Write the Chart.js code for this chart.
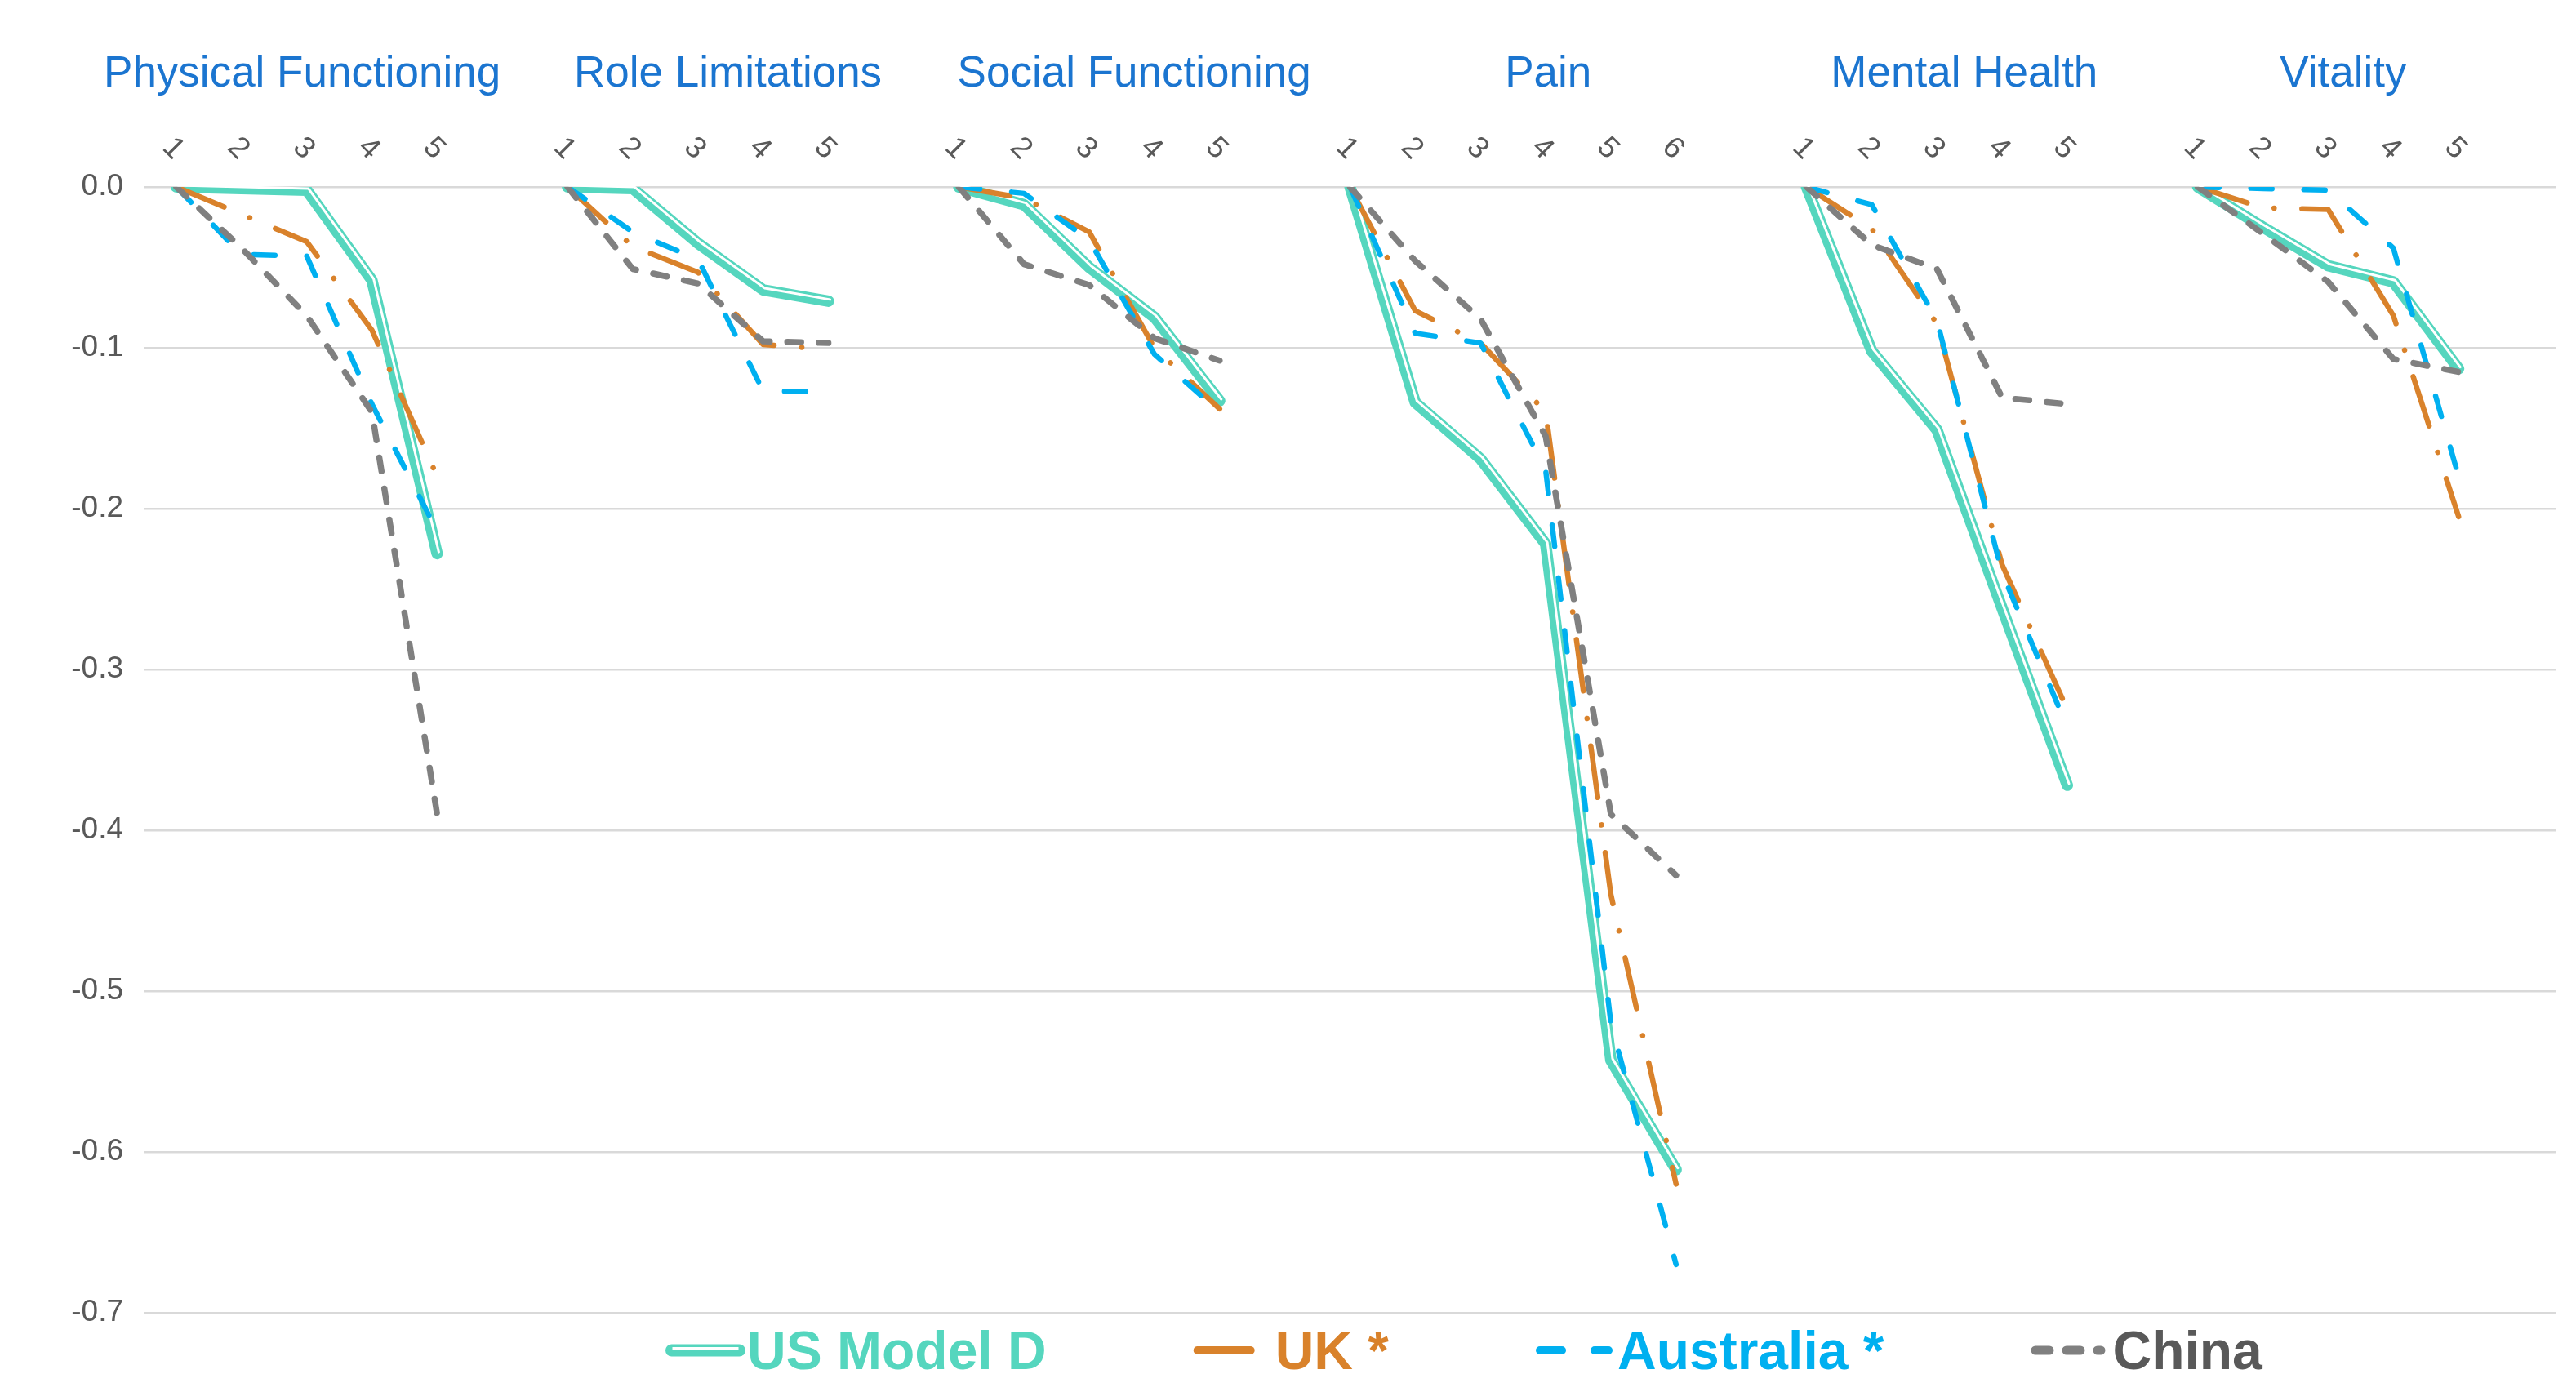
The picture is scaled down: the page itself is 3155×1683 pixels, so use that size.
<!DOCTYPE html>
<html><head><meta charset="utf-8">
<style>html,body{margin:0;padding:0;background:#fff;}#wrap{width:3155px;height:1683px;position:relative;}</style>
<script src="https://cdn.jsdelivr.net/npm/chart.js@4.4.1/dist/chart.umd.min.js"></script>
</head><body><div id="wrap"><canvas id="c"></canvas></div>
<script>
// ---- data ----
const groupNames = ['Physical Functioning','Role Limitations','Social Functioning','Pain','Mental Health','Vitality'];
const categories = ['1','2','3','4','5','',
                    '1','2','3','4','5','',
                    '1','2','3','4','5','',
                    '1','2','3','4','5','6','',
                    '1','2','3','4','5','',
                    '1','2','3','4','5',''];
const seriesNames = ['US Model D','UK *','Australia *','China'];
const usModelD = [0,-0.001,-0.002,-0.058,-0.228,null,
                  0,-0.001,-0.035,-0.064,-0.071,null,
                  0,-0.011,-0.050,-0.081,-0.133,null,
                  0,-0.134,-0.169,-0.222,-0.543,-0.611,null,
                  0,-0.102,-0.151,-0.262,-0.372,null,
                  0,-0.025,-0.049,-0.059,-0.113,null];
const uk = [0,-0.017,-0.034,-0.089,-0.180,null,
            0,-0.037,-0.053,-0.098,-0.101,null,
            0,-0.007,-0.028,-0.100,-0.138,null,
            0,-0.077,-0.097,-0.140,-0.440,-0.620,null,
            0,-0.026,-0.085,-0.235,-0.325,null,
            0,-0.013,-0.014,-0.080,-0.205,null];
const australia = [0,-0.042,-0.043,-0.135,-0.214,null,
                   0,-0.028,-0.045,-0.127,-0.127,null,
                   0,-0.004,-0.033,-0.104,-0.140,null,
                   0,-0.091,-0.097,-0.176,-0.520,-0.670,null,
                   0,-0.011,-0.083,-0.240,-0.336,null,
                   0,-0.001,-0.002,-0.038,-0.180,null];
const china = [0,-0.038,-0.080,-0.140,-0.390,null,
               0,-0.051,-0.060,-0.096,-0.097,null,
               0,-0.048,-0.061,-0.094,-0.108,null,
               0,-0.046,-0.082,-0.155,-0.390,-0.428,null,
               0,-0.036,-0.051,-0.131,-0.135,null,
               0,-0.029,-0.059,-0.107,-0.115,null];
const yTicks = [0,-0.1,-0.2,-0.3,-0.4,-0.5,-0.6,-0.7];

// ---- layout / style ----
const titleAnchors = [1.93, 8.46, 14.69, 21.04, 27.42, 33.23]; // title centres in category units
const FONT = '"Liberation Sans", Arial, sans-serif';
const colors = ['#55D6BE','#D9822B','#00B0F0','#808080'];
const legendKeys = [
  {from:7.5, to:90.5, width:15, dash:[], double:true},
  {from:5, to:70, width:10, dash:[]},
  {from:5, to:89, width:10, dash:[27,40]},
  {from:5.5, to:85.5, width:11, dash:[17,21]}
];

const base = {pointRadius:0, pointHoverRadius:0, spanGaps:false, tension:0, clip:0,
              borderCapStyle:'round', borderJoinStyle:'round', fill:false};
const datasets = [
  Object.assign({label:seriesNames[0], data:usModelD, borderColor:colors[0], borderWidth:14, order:4}, base),
  Object.assign({label:seriesNames[0]+' inner', data:usModelD, borderColor:'#ffffff', borderWidth:3, order:3, inner:true}, base),
  Object.assign({label:seriesNames[1], data:uk, borderColor:colors[1], borderWidth:6.5, borderDash:[63.5,34,0.1,34], order:2}, base),
  Object.assign({label:seriesNames[2], data:australia, borderColor:colors[2], borderWidth:6.5, borderDash:[26,39], order:1}, base),
  Object.assign({label:seriesNames[3], data:china, borderColor:colors[3], borderWidth:7.5, borderDash:[17,21.5], order:0}, base)
];

const decor = {
  id:'decor',
  beforeDatasetDraw(chart, args){
    const ds = chart.data.datasets[args.index];
    if (ds.inner){ chart.ctx.save(); chart.ctx.translate(2,-2); }
  },
  afterDatasetDraw(chart, args){
    const ds = chart.data.datasets[args.index];
    if (ds.inner){ chart.ctx.restore(); }
  },
  afterDraw(chart){
    const ctx = chart.ctx, xs = chart.scales.x;
    ctx.save();
    // rotated category labels
    ctx.fillStyle = '#595959';
    ctx.font = '37px ' + FONT;
    ctx.textAlign = 'center'; ctx.textBaseline = 'middle';
    categories.forEach((c,i)=>{
      if(!c) return;
      const x = xs.getPixelForValue(i) - 4;
      ctx.save(); ctx.translate(x, 182); ctx.rotate(Math.PI/4);
      ctx.fillText(c, 0, 0); ctx.restore();
    });
    // group titles
    ctx.fillStyle = '#1B75D0';
    ctx.font = '53px ' + FONT;
    ctx.textBaseline = 'alphabetic';
    groupNames.forEach((g,i)=>{
      ctx.fillText(g, xs.getPixelForValue(titleAnchors[i]), 106);
    });
    // legend
    ctx.font = 'bold 66px ' + FONT;
    ctx.textAlign = 'left';
    let x = 815; const ky = 1654;
    seriesNames.forEach((n,i)=>{
      const k = legendKeys[i];
      ctx.lineCap = 'round';
      ctx.strokeStyle = colors[i]; ctx.lineWidth = k.width; ctx.setLineDash(k.dash);
      ctx.beginPath(); ctx.moveTo(x+k.from, ky); ctx.lineTo(x+k.to, ky); ctx.stroke();
      if (k.double){
        ctx.strokeStyle = '#ffffff'; ctx.lineWidth = 3; ctx.lineCap = 'butt';
        ctx.beginPath(); ctx.moveTo(x+k.from+1, ky-2.5); ctx.lineTo(x+k.to-1, ky-2.5); ctx.stroke();
      }
      ctx.setLineDash([]);
      ctx.fillStyle = i===3 ? '#595959' : colors[i];
      ctx.fillText(n, x+100, 1677);
      x += 100 + ctx.measureText(n).width + 180;
    });
    ctx.restore();
  }
};

new Chart(document.getElementById('c'), {
  type:'line',
  data:{labels:categories, datasets:datasets},
  options:{
    responsive:true, maintainAspectRatio:false, animation:false, devicePixelRatio:1,
    layout:{padding:{top:229, right:24, bottom:75, left:0}},
    plugins:{legend:{display:false}, tooltip:{enabled:false}, title:{display:false}},
    scales:{
      x:{type:'category', display:false, offset:true},
      y:{min:-0.7, max:0,
         afterFit(s){ s.width = 176; },
         afterBuildTicks(s){ s.ticks = yTicks.map(v=>({value:v})); },
         grid:{color:'#D9D9D9', lineWidth:2.5, drawTicks:false},
         border:{display:false},
         ticks:{padding:25, color:'#595959', font:{family:FONT, size:37},
                callback:(v)=>Number(v).toFixed(1)}}
    }
  },
  plugins:[decor]
});
</script></body></html>
